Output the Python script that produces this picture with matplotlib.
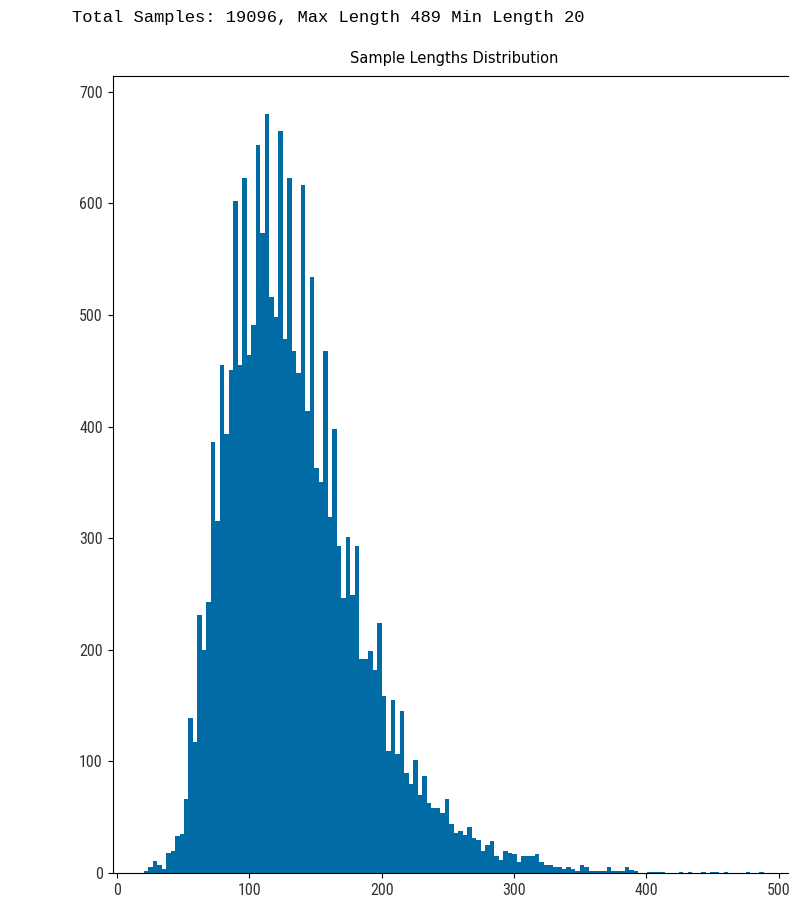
import matplotlib
matplotlib.use("Agg")
import matplotlib.pyplot as plt
import numpy as np

# summary line printed above the plot
total_samples = 19096
max_len = 489
min_len = 20

# histogram counts per bin (138 equal bins between min_len and max_len)
counts = [2, 5, 11, 7, 4, 18, 20, 33, 35, 66, 139, 117,
          231, 200, 243, 386, 315, 455, 393, 451,
          602, 455, 623, 464, 491, 652, 573, 680, 516, 498,
          665, 478, 623, 468, 448, 616, 414, 534, 363, 350, 468,
          319, 398, 293, 246, 301, 249, 293, 192, 192, 199, 182, 224,
          159, 109, 155, 107, 145, 90, 80, 101, 70, 87, 63, 58, 58,
          54, 66, 44, 36, 38, 34, 41, 31, 30, 20, 25, 29, 15, 12,
          20, 18, 17, 10, 15, 15, 15, 17, 10, 7, 7, 5, 5, 4, 5, 4, 2, 7, 5, 2,
          2, 2, 2, 5, 2, 2, 2, 5, 3, 2,
          0, 0, 1, 1, 1, 1, 0, 0, 0, 1, 0, 1, 0, 0, 1, 0, 1, 1, 0, 1,
          0, 0, 0, 0, 1, 0, 0, 1]
n_bins = len(counts)
edges = np.linspace(min_len, max_len, n_bins + 1)

# narrow face for the tick numbers, if one is there
tick_font = ["Roboto Condensed", "Liberation Sans Narrow", "DejaVu Sans"]

fig = plt.figure(figsize=(7.89, 9.08), dpi=100)
# axes runs a bit past the right edge, like the cropped screenshot
ax = fig.add_axes([0.1426, 0.0385, 0.865, 0.8778])

ax.hist(edges[:-1], bins=edges, weights=counts, color="#006BA4")
ax.set_title("Sample Lengths Distribution", fontsize=10.5, pad=9)

ax.set_xticks([0, 100, 200, 300, 400, 500])
ax.set_yticks([0, 100, 200, 300, 400, 500, 600, 700])
for lab in ax.get_xticklabels() + ax.get_yticklabels():
    lab.set_family(tick_font)
    lab.set_stretch("condensed")
    lab.set_fontsize(11.5)
    lab.set_color("#333333")

fig.text(72 / 789, 1 - 22 / 908,
         "Total Samples: %d, Max Length %d Min Length %d" % (total_samples, max_len, min_len),
         family=["Liberation Mono", "DejaVu Sans Mono"], fontsize=12.35,
         ha="left", va="baseline", color="black")

fig.savefig("out.png", dpi=100)
